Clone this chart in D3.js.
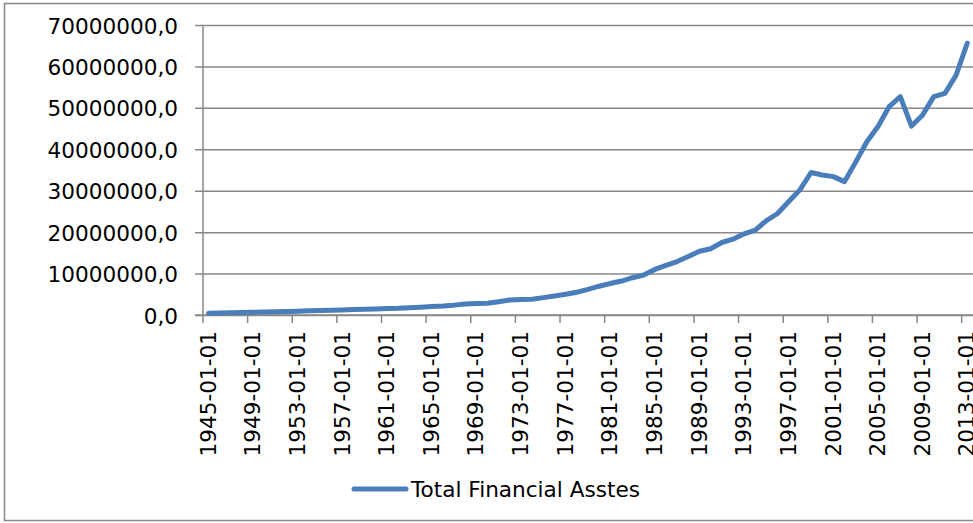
<!DOCTYPE html>
<html>
<head>
<meta charset="utf-8">
<script src="https://cdn.jsdelivr.net/npm/d3@7"></script>
<style>
  html, body { margin: 0; padding: 0; background: #fff; }
  svg { display: block; }
  text { font-family: "DejaVu Sans", sans-serif; fill: #000; }
</style>
</head>
<body>
<svg id="chart" width="973" height="523"></svg>
<script>
// ---- data ----
const years = d3.range(1945, 2014);
const seriesName = "Total Financial Asstes";
const values = [
  450000, 500000, 550000, 600000, 660000, 730000, 790000, 860000, 930000, 1000000,
  1080000, 1140000, 1200000, 1300000, 1380000, 1450000, 1550000, 1620000, 1750000, 1880000,
  2050000, 2150000, 2380000, 2680000, 2780000, 2850000, 3200000, 3600000, 3750000, 3800000,
  4200000, 4600000, 5000000, 5500000, 6200000, 6950000, 7600000, 8200000, 9000000, 9650000,
  11000000, 12000000, 12900000, 14100000, 15400000, 16000000, 17500000, 18300000, 19600000, 20500000,
  22800000, 24500000, 27400000, 30200000, 34400000, 33800000, 33400000, 32200000, 36900000, 41800000,
  45500000, 50300000, 52700000, 45600000, 48300000, 52700000, 53500000, 57900000, 65600000
];
const yTicks = [0, 10000000, 20000000, 30000000, 40000000, 50000000, 60000000, 70000000];
const xTickYears = years.filter((yr, i) => i % 4 === 0);

// ---- layout ----
const svg = d3.select("#chart");
const pLeft = 203, pRight = 203 + 69 * 11.157, pTop = 25, pBottom = 315;
const gridColor = "#878787";
const blue = "#4A7EBB";
const fs = 21.6;

// outer border
svg.append("rect")
  .attr("x", 4.5).attr("y", 3.5).attr("width", 1000).attr("height", 517)
  .attr("fill", "none").attr("stroke", gridColor).attr("stroke-width", 1.5);

const x = d3.scaleBand().domain(years).range([pLeft, pRight]).paddingInner(0).paddingOuter(0);
const y = d3.scaleLinear().domain([0, 70000000]).range([pBottom, pTop]);
const fmt = v => d3.format(".1f")(v).replace(".", ",");

// gridlines + y ticks
const yAxis = d3.axisLeft(y).tickValues(yTicks).tickFormat(fmt)
  .tickSize(8).tickSizeOuter(0).tickPadding(17);
const gy = svg.append("g").attr("transform", `translate(${pLeft},0)`).call(yAxis);
gy.select(".domain").remove();
gy.selectAll(".tick line").attr("stroke", gridColor).attr("stroke-width", 1.5)
  .attr("x1", -8).attr("x2", pRight - pLeft + 10);
gy.selectAll(".tick text").attr("font-size", fs).attr("dy", "0.37em")
  .attr("font-family", "DejaVu Sans").attr("fill", "#000");

// y axis line
svg.append("line").attr("x1", pLeft).attr("x2", pLeft).attr("y1", pTop).attr("y2", pBottom)
  .attr("stroke", gridColor).attr("stroke-width", 1.5);

// x axis
const xAxis = d3.axisBottom(x).tickValues(xTickYears).tickSize(8).tickSizeOuter(0)
  .tickFormat(d => `${d}-01-01`);
const gx = svg.append("g").attr("transform", `translate(0,${pBottom})`).call(xAxis);
gx.select(".domain").remove();
gx.selectAll(".tick").each(function(d) {
  const off = -x.bandwidth() / 2; // tick at band start
  d3.select(this).select("line").attr("x1", off).attr("x2", off)
    .attr("stroke", gridColor).attr("stroke-width", 1.5);
  d3.select(this).select("text")
    .attr("transform", "rotate(-90)")
    .attr("x", -16).attr("y", 0).attr("dy", "0.33em")
    .attr("text-anchor", "end")
    .attr("font-size", fs).attr("font-family", "DejaVu Sans").attr("fill", "#000");
});
svg.append("line").attr("x1", pLeft - 8).attr("x2", 973).attr("y1", pBottom).attr("y2", pBottom)
  .attr("stroke", gridColor).attr("stroke-width", 1.5);

// series line
const line = d3.line()
  .x((d, i) => x(years[i]) + x.bandwidth() / 2)
  .y(d => y(d));
svg.append("path").datum(values)
  .attr("d", line)
  .attr("fill", "none").attr("stroke", blue).attr("stroke-width", 5)
  .attr("stroke-linejoin", "round").attr("stroke-linecap", "round");

// legend
const lg = svg.append("g");
lg.append("line").attr("x1", 354).attr("x2", 406).attr("y1", 489).attr("y2", 489)
  .attr("stroke", blue).attr("stroke-width", 5).attr("stroke-linecap", "round");
lg.append("text").attr("x", 411).attr("y", 496.5).attr("font-size", fs).text(seriesName);
</script>
</body>
</html>
